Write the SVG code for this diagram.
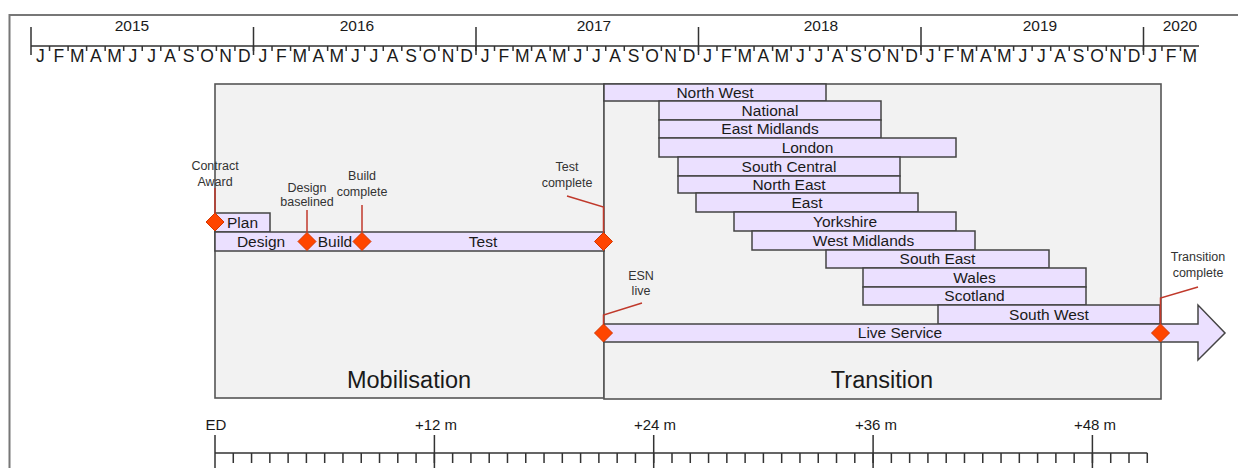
<svg xmlns="http://www.w3.org/2000/svg" width="1238" height="468" viewBox="0 0 1238 468">
<style>
text{font-family:"Liberation Sans",Arial,sans-serif;fill:#1a1a1a}
.yr{font-size:15.5px;text-anchor:middle}
.mo{font-size:17.5px;text-anchor:middle}
.bl{font-size:15.5px;text-anchor:middle}
.ms{font-size:12.5px;text-anchor:middle;fill:#333}
.ph{font-size:23.5px;text-anchor:middle}
.ax{font-size:15px;text-anchor:middle}
.axl{stroke:#333;stroke-width:1.5;fill:none}
.box{fill:#f2f2f2;stroke:#555;stroke-width:1.6}
.bar{fill:#ebe0ff;stroke:#444;stroke-width:1.5}
.dia{fill:#ff4500;stroke:#d43500;stroke-width:1}
.con{stroke:#c0392b;stroke-width:1.5;fill:none}
</style>
<defs>
<polygon id="d" class="dia" points="0,-9 9,0 0,9 -9,0"/>
</defs>
<rect width="1238" height="468" fill="#fff"/>
<rect x="9.5" y="15" width="1240" height="470" fill="none" stroke="#777" stroke-width="2"/>

<g id="top-axis">
<path class="axl" d="M31,46 H1199 M31,27 V55 M253.5,27 V55 M476,27 V55 M698.5,27 V55 M921,27 V55 M1143.5,27 V55"/>
<path class="axl" stroke-width="1.2" d="M31,46 m18.54,0 v5 m18.54,-5 v5 m18.54,-5 v5 m18.54,-5 v5 m18.54,-5 v5 m18.54,-5 v5 m18.54,-5 v5 m18.54,-5 v5 m18.54,-5 v5 m18.54,-5 v5 m18.54,-5 v5 m18.54,-5 v5 m18.54,-5 v5 m18.54,-5 v5 m18.54,-5 v5 m18.54,-5 v5 m18.54,-5 v5 m18.54,-5 v5 m18.54,-5 v5 m18.54,-5 v5 m18.54,-5 v5 m18.54,-5 v5 m18.54,-5 v5 m18.54,-5 v5 m18.54,-5 v5 m18.54,-5 v5 m18.54,-5 v5 m18.54,-5 v5 m18.54,-5 v5 m18.54,-5 v5 m18.54,-5 v5 m18.54,-5 v5 m18.54,-5 v5 m18.54,-5 v5 m18.54,-5 v5 m18.54,-5 v5 m18.54,-5 v5 m18.54,-5 v5 m18.54,-5 v5 m18.54,-5 v5 m18.54,-5 v5 m18.54,-5 v5 m18.54,-5 v5 m18.54,-5 v5 m18.54,-5 v5 m18.54,-5 v5 m18.54,-5 v5 m18.54,-5 v5 m18.54,-5 v5 m18.54,-5 v5 m18.54,-5 v5 m18.54,-5 v5 m18.54,-5 v5 m18.54,-5 v5 m18.54,-5 v5 m18.54,-5 v5 m18.54,-5 v5 m18.54,-5 v5 m18.54,-5 v5 m18.54,-5 v5 m18.54,-5 v5 m18.54,-5 v5"/>
<text class="yr" x="132" y="31">2015</text>
<text class="yr" x="357" y="31">2016</text>
<text class="yr" x="594" y="31">2017</text>
<text class="yr" x="821" y="31">2018</text>
<text class="yr" x="1040" y="31">2019</text>
<text class="yr" x="1180" y="31">2020</text>
<text class="mo" x="40.27" y="62">J</text><text class="mo" x="58.81" y="62">F</text><text class="mo" x="77.35" y="62">M</text><text class="mo" x="95.89" y="62">A</text><text class="mo" x="114.43" y="62">M</text><text class="mo" x="132.97" y="62">J</text><text class="mo" x="151.51" y="62">J</text><text class="mo" x="170.05" y="62">A</text><text class="mo" x="188.59" y="62">S</text><text class="mo" x="207.13" y="62">O</text><text class="mo" x="225.67" y="62">N</text><text class="mo" x="244.21" y="62">D</text>
<text class="mo" x="262.75" y="62">J</text><text class="mo" x="281.29" y="62">F</text><text class="mo" x="299.83" y="62">M</text><text class="mo" x="318.37" y="62">A</text><text class="mo" x="336.91" y="62">M</text><text class="mo" x="355.45" y="62">J</text><text class="mo" x="373.99" y="62">J</text><text class="mo" x="392.53" y="62">A</text><text class="mo" x="411.07" y="62">S</text><text class="mo" x="429.61" y="62">O</text><text class="mo" x="448.15" y="62">N</text><text class="mo" x="466.69" y="62">D</text>
<text class="mo" x="485.23" y="62">J</text><text class="mo" x="503.77" y="62">F</text><text class="mo" x="522.31" y="62">M</text><text class="mo" x="540.85" y="62">A</text><text class="mo" x="559.39" y="62">M</text><text class="mo" x="577.93" y="62">J</text><text class="mo" x="596.47" y="62">J</text><text class="mo" x="615.01" y="62">A</text><text class="mo" x="633.55" y="62">S</text><text class="mo" x="652.09" y="62">O</text><text class="mo" x="670.63" y="62">N</text><text class="mo" x="689.17" y="62">D</text>
<text class="mo" x="707.71" y="62">J</text><text class="mo" x="726.25" y="62">F</text><text class="mo" x="744.79" y="62">M</text><text class="mo" x="763.33" y="62">A</text><text class="mo" x="781.87" y="62">M</text><text class="mo" x="800.41" y="62">J</text><text class="mo" x="818.95" y="62">J</text><text class="mo" x="837.49" y="62">A</text><text class="mo" x="856.03" y="62">S</text><text class="mo" x="874.57" y="62">O</text><text class="mo" x="893.11" y="62">N</text><text class="mo" x="911.65" y="62">D</text>
<text class="mo" x="930.19" y="62">J</text><text class="mo" x="948.73" y="62">F</text><text class="mo" x="967.27" y="62">M</text><text class="mo" x="985.81" y="62">A</text><text class="mo" x="1004.35" y="62">M</text><text class="mo" x="1022.89" y="62">J</text><text class="mo" x="1041.43" y="62">J</text><text class="mo" x="1059.97" y="62">A</text><text class="mo" x="1078.51" y="62">S</text><text class="mo" x="1097.05" y="62">O</text><text class="mo" x="1115.59" y="62">N</text><text class="mo" x="1134.13" y="62">D</text>
<text class="mo" x="1152.67" y="62">J</text><text class="mo" x="1171.21" y="62">F</text><text class="mo" x="1189.75" y="62">M</text>
</g>

<g id="mobilisation">
<rect class="box" x="215" y="84" width="389" height="314"/>
<text class="ph" x="409" y="388">Mobilisation</text>
</g>
<g id="transition">
<rect class="box" x="604" y="84" width="557" height="315"/>
<text class="ph" x="882" y="388">Transition</text>
</g>

<g id="plan"><rect class="bar" x="215" y="213" width="55" height="19"/><text class="bl" x="227" y="227.5" style="text-anchor:start">Plan</text></g>
<g id="design-build-test">
<rect class="bar" x="215" y="232" width="389" height="19"/>
<text class="bl" x="261" y="246.5">Design</text>
<text class="bl" x="335" y="246.5">Build</text>
<text class="bl" x="483" y="246.5">Test</text>
</g>

<g id="north-west"><rect class="bar" x="604" y="84" width="222" height="17"/><text class="bl" x="715" y="97.5">North West</text></g>
<g id="national"><rect class="bar" x="659" y="101" width="222" height="19"/><text class="bl" x="770" y="115.5">National</text></g>
<g id="east-midlands"><rect class="bar" x="659" y="120" width="222" height="18"/><text class="bl" x="770" y="134">East Midlands</text></g>
<g id="london"><rect class="bar" x="659" y="138" width="297" height="19"/><text class="bl" x="807.5" y="152.5">London</text></g>
<g id="south-central"><rect class="bar" x="678" y="157" width="222" height="19"/><text class="bl" x="789" y="171.5">South Central</text></g>
<g id="north-east"><rect class="bar" x="678" y="176" width="222" height="17"/><text class="bl" x="789" y="189.5">North East</text></g>
<g id="east"><rect class="bar" x="696" y="193" width="222" height="19"/><text class="bl" x="807" y="207.5">East</text></g>
<g id="yorkshire"><rect class="bar" x="734" y="212" width="222" height="19"/><text class="bl" x="845" y="226.5">Yorkshire</text></g>
<g id="west-midlands"><rect class="bar" x="752" y="231" width="223" height="19"/><text class="bl" x="863.5" y="245.5">West Midlands</text></g>
<g id="south-east"><rect class="bar" x="826" y="250" width="223" height="18"/><text class="bl" x="937.5" y="264">South East</text></g>
<g id="wales"><rect class="bar" x="863" y="268" width="223" height="19"/><text class="bl" x="974.5" y="282.5">Wales</text></g>
<g id="scotland"><rect class="bar" x="863" y="287" width="223" height="18"/><text class="bl" x="974.5" y="301">Scotland</text></g>
<g id="south-west"><rect class="bar" x="938" y="305" width="222" height="19"/><text class="bl" x="1049" y="319.5">South West</text></g>
<g id="live-service"><polygon class="bar" points="604,324 1198,324 1198,305 1225,333 1198,360 1198,342 604,342"/><text class="bl" x="900" y="337.5">Live Service</text></g>

<g id="connectors">
<path class="con" d="M215,188 V213"/>
<path class="con" d="M307,210 V232"/>
<path class="con" d="M362,205 V232"/>
<path class="con" d="M567,196 L603.5,207 V232"/>
<path class="con" d="M642,303 L603.5,315 V324"/>
<path class="con" d="M1198,287 L1160.5,298 V324"/>
</g>

<g id="contract-award"><use href="#d" x="215" y="222"/><text class="ms" x="215" y="170">Contract</text><text class="ms" x="215" y="186">Award</text></g>
<g id="design-baselined"><use href="#d" x="307" y="241.5"/><text class="ms" x="307" y="192">Design</text><text class="ms" x="307" y="206">baselined</text></g>
<g id="build-complete"><use href="#d" x="362" y="241.5"/><text class="ms" x="362" y="180">Build</text><text class="ms" x="362" y="196">complete</text></g>
<g id="test-complete"><use href="#d" x="603.5" y="241.5"/><text class="ms" x="567" y="171">Test</text><text class="ms" x="567" y="187">complete</text></g>
<g id="esn-live"><use href="#d" x="603.5" y="333"/><text class="ms" x="641" y="280">ESN</text><text class="ms" x="641" y="295">live</text></g>
<g id="transition-complete"><use href="#d" x="1160.5" y="333"/><text class="ms" x="1198" y="261">Transition</text><text class="ms" x="1198" y="277">complete</text></g>

<g id="bottom-axis">
<path class="axl" d="M215,453 H1147.3 M215,435 V468 M434.4,435 V468 M653.7,435 V468 M873.1,435 V468 M1092.4,435 V468"/>
<path class="axl" stroke-width="1.2" d="M215,453 m18.28,0 v10 m18.28,-10 v10 m18.28,-10 v10 m18.28,-10 v10 m18.28,-10 v10 m18.28,-10 v10 m18.28,-10 v10 m18.28,-10 v10 m18.28,-10 v10 m18.28,-10 v10 m18.28,-10 v10 m18.28,-10 v10 m18.28,-10 v10 m18.28,-10 v10 m18.28,-10 v10 m18.28,-10 v10 m18.28,-10 v10 m18.28,-10 v10 m18.28,-10 v10 m18.28,-10 v10 m18.28,-10 v10 m18.28,-10 v10 m18.28,-10 v10 m18.28,-10 v10 m18.28,-10 v10 m18.28,-10 v10 m18.28,-10 v10 m18.28,-10 v10 m18.28,-10 v10 m18.28,-10 v10 m18.28,-10 v10 m18.28,-10 v10 m18.28,-10 v10 m18.28,-10 v10 m18.28,-10 v10 m18.28,-10 v10 m18.28,-10 v10 m18.28,-10 v10 m18.28,-10 v10 m18.28,-10 v10 m18.28,-10 v10 m18.28,-10 v10 m18.28,-10 v10 m18.28,-10 v10 m18.28,-10 v10 m18.28,-10 v10 m18.28,-10 v10 m18.28,-10 v10 m18.28,-10 v10 m18.28,-10 v10 m18.28,-10 v10"/>
<text class="ax" x="216" y="430">ED</text>
<text class="ax" x="436" y="430">+12 m</text>
<text class="ax" x="655" y="430">+24 m</text>
<text class="ax" x="876" y="430">+36 m</text>
<text class="ax" x="1095" y="430">+48 m</text>
</g>
</svg>
